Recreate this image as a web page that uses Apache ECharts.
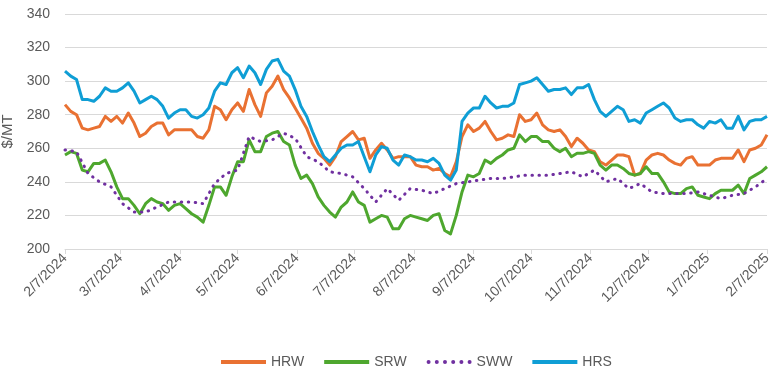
<!DOCTYPE html>
<html><head><meta charset="utf-8">
<script src="https://cdn.jsdelivr.net/npm/echarts@6/dist/echarts.min.js"></script>
<style>html,body{margin:0;padding:0;background:#fff}#c{width:776px;height:370px}</style>
</head><body><div id="c"></div>
<script>
// Daily category axis from 2/7/2024 to 2/7/2025
const startYear = 2024, startMonth = 1, startDay = 7; // Feb 7, 2024 (month 0-based)
const dayCount = 367;
const stepDays = 3;     // HRW, SRW, HRS read every 3 days
const swwStepDays = 6;  // SWW read every 6 days

const tickLabels = ['2/7/2024','3/7/2024','4/7/2024','5/7/2024','6/7/2024','7/7/2024','8/7/2024',
  '9/7/2024','10/7/2024','11/7/2024','12/7/2024','1/7/2025','2/7/2025'];

const seriesNames = ['HRW','SRW','SWW','HRS'];

const hrw = [286,282,280,272,271,272,273,279,276,279,275,281,275,267,269,273,275,275,268,271,271,
  271,271,267,266,271,285,283,277,283,287,282,295,286,279,293,297,303,295,290,284,278,
  272,263,257,254,250,255,264,267,270,265,266,254,259,263,259,254,255,255,255,250,249,
  249,247,248,245,243,252,267,274,270,272,276,270,265,266,268,267,280,276,277,281,274,
  271,270,271,267,261,266,263,259,258,252,250,253,256,256,255,244,245,253,256,257,256,
  253,251,250,254,255,250,250,250,253,254,254,254,259,252,259,260,262,268];

const srw = [256,258,257,247,246,251,251,253,246,237,230,230,226,221,227,230,228,227,223,226,227,
  224,221,219,216,226,237,237,232,243,252,252,265,258,258,267,269,270,264,262,250,242,
  244,239,231,226,222,219,225,228,234,228,226,216,218,220,219,212,212,218,220,219,218,
  217,220,221,211,209,220,234,244,243,245,253,251,254,256,259,260,268,264,267,267,264,
  264,260,258,260,255,257,257,258,257,250,247,250,250,248,245,244,245,249,245,245,240,
  234,233,233,236,237,232,231,230,233,235,235,235,238,233,242,244,246,249];

const hrs = [306,303,301,289,289,288,291,296,294,294,296,299,294,287,289,291,289,285,278,281,283,
  283,279,278,280,284,294,299,298,305,308,302,309,305,298,307,312,313,306,303,295,285,
  279,270,262,255,252,256,260,262,262,264,255,246,256,261,260,253,250,256,255,253,253,
  252,254,251,244,241,247,276,281,284,284,291,287,284,285,285,287,298,299,300,302,298,
  294,295,295,296,292,296,296,298,289,282,279,282,285,283,276,277,275,281,283,285,287,
  284,278,276,277,277,274,272,276,275,277,272,272,279,271,276,277,277,279];

const sww = [259,258,245,240,237,227,222,222,225,228,228,
  228,227,239,245,247,267,264,265,269,266,
  255,252,246,245,243,236,228,236,229,236,235,
  233,236,239,240,241,242,242,243,244,244,
  244,245,246,243,247,240,242,236,239,234,233,
  233,233,234,232,230,232,233,237,242];

const colors = {HRW:'#E97132', SRW:'#4EA72E', SWW:'#7030A0', HRS:'#0F9ED5'};

const cats = [];
for (let i = 0; i < dayCount; i++) {
  const d = new Date(startYear, startMonth, startDay + i);
  cats.push((d.getMonth()+1) + '/' + d.getDate() + '/' + d.getFullYear());
}
const toPairs = (arr, step) => arr.map((v, i) => [i * step, v]);
const isTick = (idx, val) => tickLabels.indexOf(val) >= 0;

// legend icons: solid bar and a row of dots
const dotsIcon = 'path://' + [0,1,2,3,4,5].map(i => {
  const cx = 2 + i * 8.2;
  return 'M' + (cx - 2) + ',2a2,2 0 1,0 4,0a2,2 0 1,0 -4,0Z';
}).join('') + 'M0,0L0.01,0L0.01,0.01Z M45,4L44.99,4L44.99,3.99Z';

const txt = '#595959';
const font = 'Liberation Sans, Arial, sans-serif';
const chart = echarts.init(document.getElementById('c'), null, {renderer:'canvas'});
chart.setOption({
  animation: false,
  backgroundColor: '#fff',
  textStyle: {fontFamily: font},
  grid: {left: 65, right: 9, top: 14, bottom: 121, containLabel: false, outerBoundsMode: 'none'},
  legend: {
    data: seriesNames.map(n => ({name: n, icon: n === 'SWW' ? dotsIcon : 'rect'})),
    left: 216, top: 350, itemWidth: 45, itemHeight: 4, itemGap: 20,
    textStyle: {color: txt, fontSize: 14, fontFamily: font}
  },
  xAxis: {
    type: 'category', data: cats, boundaryGap: false,
    axisLine: {lineStyle: {color: '#D9D9D9', width: 1}},
    axisTick: {show: true, interval: isTick, length: 5, lineStyle: {color: '#D9D9D9'}},
    axisLabel: {interval: isTick, rotate: 45, color: txt, fontSize: 14, margin: 7, fontFamily: font},
    splitLine: {show: false}
  },
  yAxis: {
    type: 'value', min: 200, max: 340, interval: 20,
    name: '$/MT', nameLocation: 'middle', nameGap: 46, nameRotate: 90,
    nameTextStyle: {color: txt, fontSize: 15, fontFamily: font},
    axisLine: {show: false}, axisTick: {show: false},
    axisLabel: {color: txt, fontSize: 14, margin: 15, fontFamily: font},
    splitLine: {lineStyle: {color: '#D9D9D9', width: 1}}
  },
  series: [
    {name:'HRW', type:'line', data: toPairs(hrw, stepDays), symbol:'none', color: colors.HRW,
      lineStyle:{width:3, color: colors.HRW, join:'round'}},
    {name:'SRW', type:'line', data: toPairs(srw, stepDays), symbol:'none', color: colors.SRW,
      lineStyle:{width:3, color: colors.SRW, join:'round'}},
    {name:'SWW', type:'line', data: toPairs(sww, swwStepDays), symbol:'none', color: colors.SWW,
      lineStyle:{width:3, color: colors.SWW, type:[0.5,6.5], cap:'round'}},
    {name:'HRS', type:'line', data: toPairs(hrs, stepDays), symbol:'none', color: colors.HRS,
      lineStyle:{width:3, color: colors.HRS, join:'round'}}
  ]
});
</script></body></html>
